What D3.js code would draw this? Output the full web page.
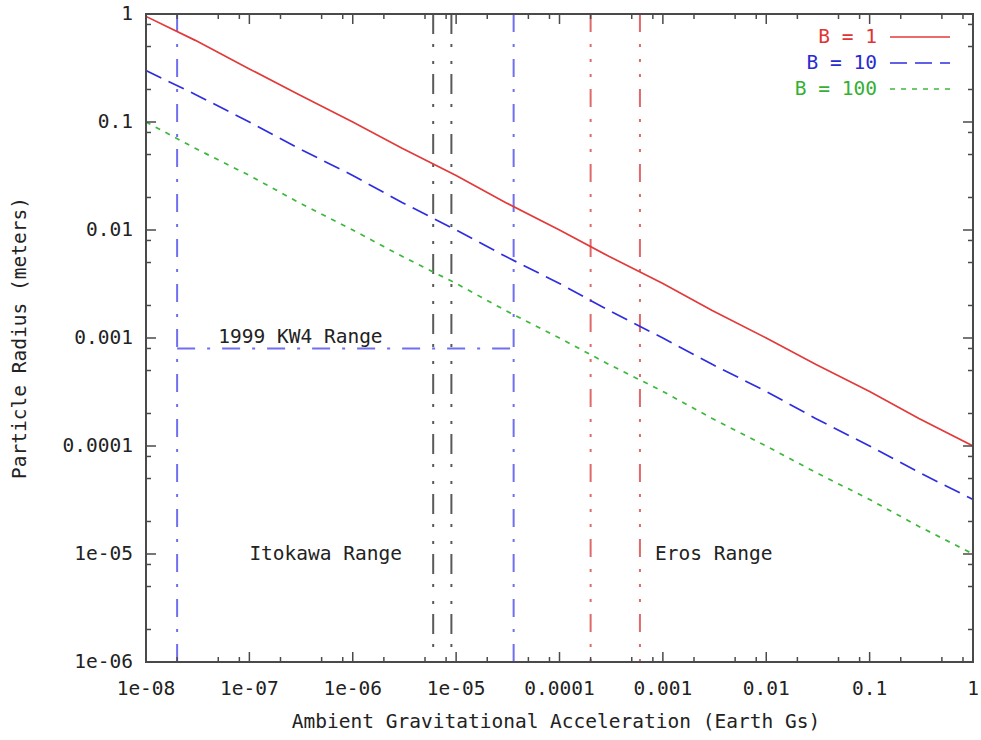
<!DOCTYPE html>
<html>
<head>
<meta charset="utf-8">
<script src="https://cdn.jsdelivr.net/npm/d3@7"></script>
<style>
  body { margin: 0; background: #fff; }
  svg text { font-family: "DejaVu Sans Mono", "Liberation Mono", monospace; font-size: 19.5px; }
</style>
</head>
<body>
<svg id="chart" width="981" height="740"></svg>
<script>
// ---- data ----
const accel = [1e-8, 3e-8, 1e-7, 3e-7, 1e-6, 3e-6, 1e-5, 3e-5, 1e-4, 3e-4, 1e-3, 3e-3, 1e-2, 3e-2, 0.1, 0.3, 1];
const radiusB1   = [0.95, 0.57, 0.31, 0.18, 0.1, 0.057, 0.032, 0.018, 0.01, 0.0057, 0.0032, 0.0018, 0.001, 0.00057, 0.00032, 0.00018, 0.0001];
const radiusB10  = [0.3, 0.18, 0.1, 0.057, 0.032, 0.018, 0.01, 0.0057, 0.0032, 0.0018, 0.001, 0.00057, 0.00032, 0.00018, 0.0001, 0.000057, 0.000032];
const radiusB100 = [0.1, 0.057, 0.032, 0.018, 0.01, 0.0057, 0.0032, 0.0018, 0.001, 0.00057, 0.00032, 0.00018, 0.0001, 0.000057, 0.000032, 0.000018, 0.00001];
const seriesNames = ["B = 1", "B = 10", "B = 100"];

const xTicks = [1e-8, 1e-7, 1e-6, 1e-5, 1e-4, 1e-3, 1e-2, 0.1, 1];
const xTickLabels = ["1e-08", "1e-07", "1e-06", "1e-05", "0.0001", "0.001", "0.01", "0.1", "1"];
const yTicks = [1e-6, 1e-5, 1e-4, 1e-3, 1e-2, 0.1, 1];
const yTickLabels = ["1e-06", "1e-05", "0.0001", "0.001", "0.01", "0.1", "1"];
const minorMultipliers = [2, 5, 8];

// Range markers
const kw4Range = [2e-8, 3.6e-5];      // blue dash-dot verticals
const kw4Level = 8e-4;                // horizontal bar
const itokawaRange = [6e-6, 9e-6];    // grey dash-dot-dot verticals
const erosRange = [2e-4, 6e-4];       // red dash-dot-dot-dot verticals
const annotations = [
  { text: "1999 KW4 Range", x: 5.0e-8, y: 8e-4, dy: -5 },
  { text: "Itokawa Range", x: 1.0e-7, y: 1e-5, dy: 0 },
  { text: "Eros Range", x: 8.4e-4, y: 1e-5, dy: 0 }
];

// ---- layout ----
const svg = d3.select("#chart");
const L = 146, R = 973, T = 14, B = 662;
const x = d3.scaleLog().domain([1e-8, 1]).range([L, R]);
const y = d3.scaleLog().domain([1e-6, 1]).range([B, T]);

const colors = ["#e23a3a", "#2e2ee0", "#3cb83c"];
const dashes = [null, "17,8", "5,6"];
const textColors = ["#e03434", "#2a2ad4", "#34b034"];

svg.append("clipPath").attr("id", "clip").append("rect")
  .attr("x", L).attr("y", T).attr("width", R - L).attr("height", B - T);

const g = svg.append("g").attr("clip-path", "url(#clip)");

function vline(v, color, dash) {
  g.append("line").attr("x1", x(v)).attr("x2", x(v)).attr("y1", y(1)).attr("y2", y(1e-6))
    .attr("stroke", color).attr("stroke-width", 2).attr("stroke-dasharray", dash);
}
kw4Range.forEach(v => vline(v, "#6f6ff0", "18,12,3,12"));
itokawaRange.forEach(v => vline(v, "#5a5a5a", "20,10,3,14,3,10"));
erosRange.forEach(v => vline(v, "#e06a6a", "18,12,3,12,3,12,3,12"));

g.append("line").attr("x1", x(kw4Range[0])).attr("x2", x(kw4Range[1]))
  .attr("y1", y(kw4Level)).attr("y2", y(kw4Level))
  .attr("stroke", "#6f6ff0").attr("stroke-width", 2).attr("stroke-dasharray", "18,12,3,12");

const line = d3.line().x(d => x(d[0])).y(d => y(d[1]));
[radiusB1, radiusB10, radiusB100].forEach((vals, i) => {
  g.append("path").datum(accel.map((a, j) => [a, vals[j]]))
    .attr("d", line).attr("fill", "none")
    .attr("stroke", colors[i]).attr("stroke-width", 1.7)
    .attr("stroke-dasharray", dashes[i]);
});

annotations.forEach(a => {
  svg.append("text").attr("x", x(a.x)).attr("y", y(a.y) + a.dy)
    .attr("fill", "#222").text(a.text)
    .attr("dominant-baseline", a.dy ? "auto" : "middle");
});

svg.append("rect").attr("x", L).attr("y", T).attr("width", R - L).attr("height", B - T)
  .attr("fill", "none").attr("stroke", "#4a4a4a").attr("stroke-width", 2);

const tk = svg.append("g").attr("stroke", "#4a4a4a").attr("stroke-width", 1.5);
xTicks.forEach((t, i) => {
  const px = x(t);
  tk.append("line").attr("x1", px).attr("x2", px).attr("y1", B).attr("y2", B - 10);
  tk.append("line").attr("x1", px).attr("x2", px).attr("y1", T).attr("y2", T + 10);
  if (i < xTicks.length - 1) minorMultipliers.forEach(m => {
    const mx = x(t * m);
    tk.append("line").attr("x1", mx).attr("x2", mx).attr("y1", B).attr("y2", B - 5);
    tk.append("line").attr("x1", mx).attr("x2", mx).attr("y1", T).attr("y2", T + 5);
  });
  svg.append("text").attr("x", px).attr("y", 695).attr("text-anchor", "middle")
    .attr("fill", "#222").text(xTickLabels[i]);
});
yTicks.forEach((t, i) => {
  const py = y(t);
  tk.append("line").attr("x1", L).attr("x2", L + 10).attr("y1", py).attr("y2", py);
  tk.append("line").attr("x1", R).attr("x2", R - 10).attr("y1", py).attr("y2", py);
  if (i < yTicks.length - 1) minorMultipliers.forEach(m => {
    const my = y(t * m);
    tk.append("line").attr("x1", L).attr("x2", L + 5).attr("y1", my).attr("y2", my);
    tk.append("line").attr("x1", R).attr("x2", R - 5).attr("y1", my).attr("y2", my);
  });
  svg.append("text").attr("x", 133).attr("y", py).attr("text-anchor", "end")
    .attr("dominant-baseline", "middle").attr("fill", "#222").text(yTickLabels[i]);
});

svg.append("text").attr("x", 556).attr("y", 728).attr("text-anchor", "middle")
  .attr("fill", "#222").text("Ambient Gravitational Acceleration (Earth Gs)");
svg.append("text").attr("transform", "translate(26,338) rotate(-90)")
  .attr("text-anchor", "middle").attr("fill", "#222").text("Particle Radius (meters)");

seriesNames.forEach((name, i) => {
  const ly = 37 + i * 26;
  svg.append("text").attr("x", 877).attr("y", ly).attr("text-anchor", "end")
    .attr("dominant-baseline", "middle").attr("fill", textColors[i]).text(name);
  svg.append("line").attr("x1", 890).attr("x2", 950).attr("y1", ly).attr("y2", ly)
    .attr("stroke", colors[i]).attr("stroke-width", 1.7).attr("stroke-dasharray", dashes[i]);
});
</script>
</body>
</html>
